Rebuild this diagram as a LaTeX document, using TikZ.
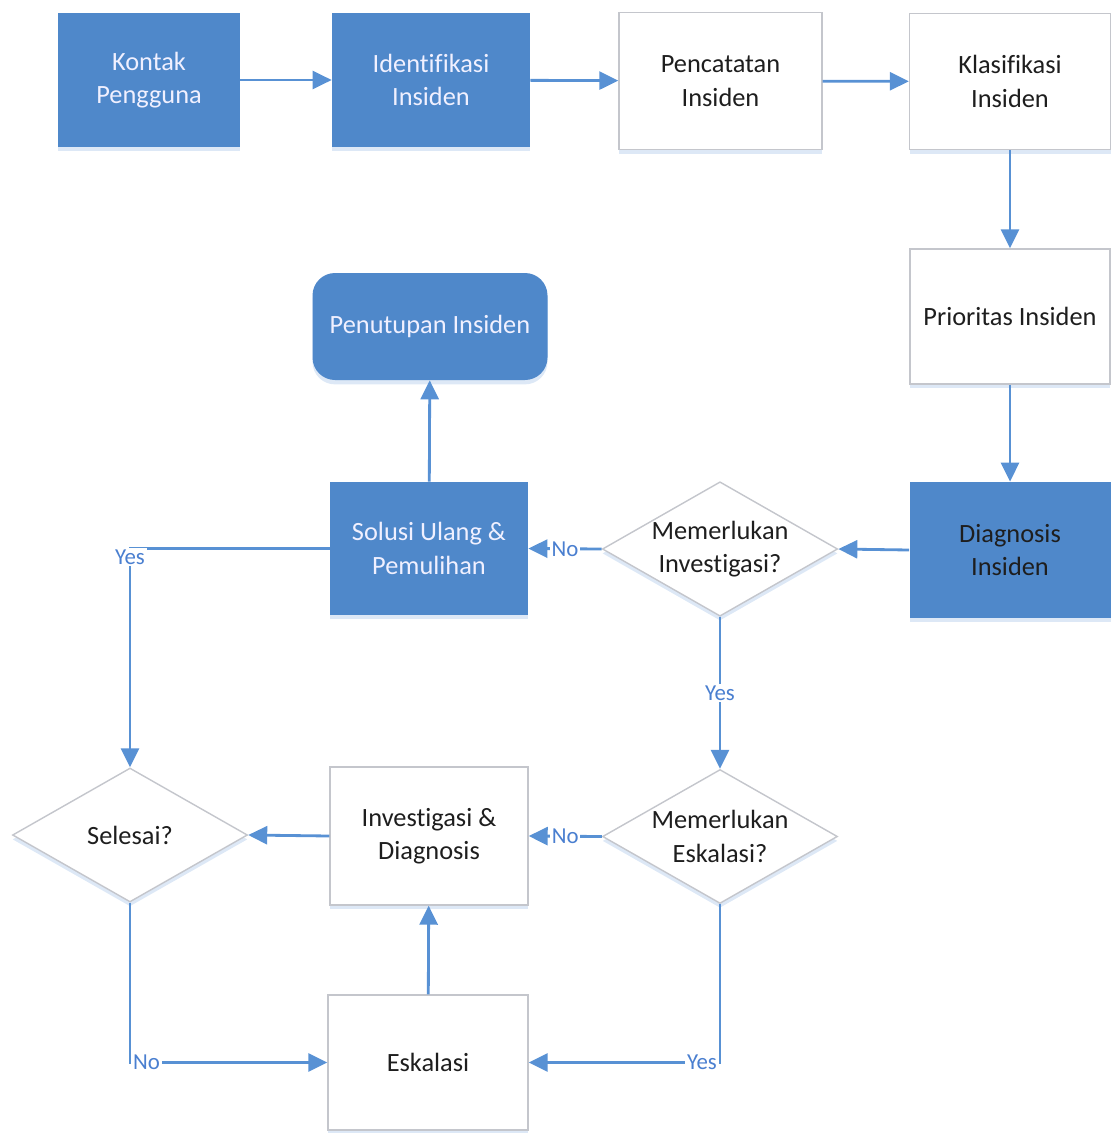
\documentclass[tikz,border=0pt]{standalone}
\usepackage{fontspec}
\setmainfont{Carlito}[Ligatures={NoCommon}]
\usetikzlibrary{shapes.geometric,arrows.meta,shadows}
\definecolor{boxblue}{HTML}{4F88CA}
\definecolor{linkblue}{HTML}{5891D4}
\definecolor{labelblue}{HTML}{4A7FD0}
\definecolor{boxline}{HTML}{C4C6CC}
\definecolor{darktext}{HTML}{1E1E1E}

\begin{document}
\begin{tikzpicture}[
  font=\fontsize{15}{19}\selectfont,
  base/.style={align=center, drop shadow={shadow xshift=0pt, shadow yshift=-2.5pt, fill=linkblue!45, opacity=.45}},
  bluebox/.style={base, rectangle, fill=boxblue, text=blue!6!white, minimum width=3.96cm, minimum height=2.66cm},
  whitebox/.style={base, rectangle, draw=boxline, line width=.8pt, fill=white, text=darktext, minimum width=4cm, minimum height=2.7cm},
  decision/.style={base, diamond, draw=boxline, line width=.8pt, fill=white, text=darktext, aspect=1.75, inner sep=0pt, minimum width=4.7cm, minimum height=2.68cm},
  link/.style={draw=linkblue, line width=1.6pt, -{Triangle[length=.38cm,width=.36cm]}},
  answer/.style={text=labelblue, fill=white, inner sep=1pt, font=\fontsize{13}{15}\selectfont}
]
  \useasboundingbox (0,0) rectangle (22.22,-22.66);

  \node[bluebox, minimum width=3.64cm, minimum height=2.68cm] (kontak) at (2.98,-1.6) {Kontak\\Pengguna};
  \node[bluebox] (identifikasi) at (8.62,-1.6) {Identifikasi\\Insiden};
  \node[whitebox, minimum width=4.06cm, minimum height=2.74cm] (pencatatan) at (14.41,-1.62) {Pencatatan\\Insiden};
  \node[whitebox, minimum width=4.02cm, minimum height=2.72cm] (klasifikasi) at (20.2,-1.63) {Klasifikasi\\Insiden};
  \node[whitebox] (prioritas) at (20.2,-6.33) {Prioritas Insiden};
  \node[bluebox, text=darktext, minimum width=4.02cm, minimum height=2.72cm] (diagnosis) at (20.2,-11.0) {Diagnosis\\Insiden};
  \node[decision] (investigasi) at (14.4,-10.98) {Memerlukan\\Investigasi?};
  \node[bluebox] (solusi) at (8.58,-10.97) {Solusi Ulang \&\\Pemulihan};
  \node[base, rectangle, rounded corners=.45cm, fill=boxblue, text=blue!6!white, minimum width=4.7cm, minimum height=2.14cm] (penutupan) at (8.6,-6.53) {Penutupan Insiden};
  \node[decision] (selesai) at (2.6,-16.7) {Selesai?};
  \node[whitebox, minimum width=3.96cm, minimum height=2.76cm] (invdiag) at (8.58,-16.72) {Investigasi \&\\Diagnosis};
  \node[decision] (eskalasiq) at (14.4,-16.73) {Memerlukan\\Eskalasi?};
  \node[whitebox] (eskalasi) at (8.56,-21.25) {Eskalasi};

  \draw[link] (kontak) -- (identifikasi);
  \draw[link] (identifikasi) -- (pencatatan);
  \draw[link] (pencatatan) -- (klasifikasi);
  \draw[link] (klasifikasi) -- (prioritas);
  \draw[link] (prioritas) -- (diagnosis);
  \draw[link] (diagnosis.west) -- (investigasi.east);
  \draw[link] (investigasi.west) -- node[answer] {No} (solusi.east);
  \draw[link] (investigasi.south) -- node[answer] {Yes} (eskalasiq.north);
  \draw[link] (solusi) -- (penutupan);
  \draw[link] (solusi.west) -| node[answer, pos=.5, yshift=-5pt] {Yes} (selesai.north);
  \draw[link] (eskalasiq.west) -- node[answer] {No} (invdiag.east);
  \draw[link] (invdiag.west) -- (selesai.east);
  \draw[link] (selesai.south) |- node[answer, pos=.5, anchor=west] {No} (eskalasi.west);
  \draw[link] (eskalasiq.south) |- node[answer, pos=.5, anchor=east] {Yes} (eskalasi.east);
  \draw[link] (eskalasi) -- (invdiag);
\end{tikzpicture}
\end{document}
